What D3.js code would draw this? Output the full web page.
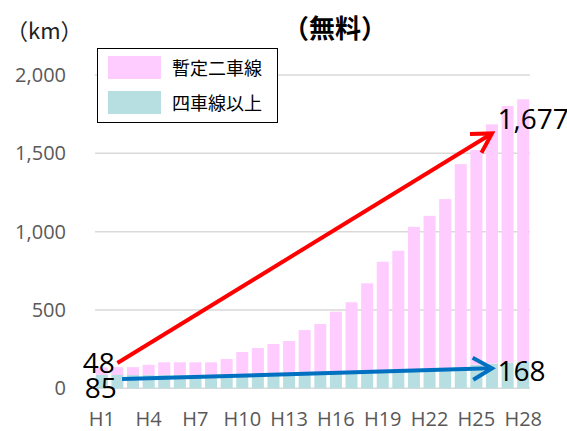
<!DOCTYPE html>
<html>
<head>
<meta charset="utf-8">
<script src="https://cdn.jsdelivr.net/npm/d3@7"></script>
<style>
  body { margin: 0; background: #fff; }
  svg { display: block; }
  text { font-family: "Open Sans", "Noto Sans CJK JP", sans-serif; }
  .cjk { font-family: "Noto Sans CJK JP", sans-serif; }
</style>
</head>
<body>
<svg id="chart" width="567" height="431"></svg>
<script>
const years = ['H1','H2','H3','H4','H5','H6','H7','H8','H9','H10','H11','H12','H13','H14',
  'H15','H16','H17','H18','H19','H20','H21','H22','H23','H24','H25','H26','H27','H28'];
// 四車線以上 (km)
const fourLane = [85, 85, 85, 86, 86, 86, 86, 86, 88, 88, 88, 90, 90, 92,
  96, 98, 100, 104, 108, 112, 116, 122, 128, 132, 150, 158, 164, 168];
// 暫定二車線 (km)
const twoLane = [48, 50, 50, 64, 80, 80, 80, 80, 99, 144, 169, 193, 212, 280,
  315, 391, 449, 566, 700, 766, 915, 979, 1080, 1299, 1371, 1527, 1638, 1677];
const yTicks = [0, 500, 1000, 1500, 2000];
const xTickLabels = ['H1','H4','H7','H10','H13','H16','H19','H22','H25','H28'];
const seriesNames = ['暫定二車線', '四車線以上'];
const colors = ['#ffccff', '#b7dfe2'];

// arrows: [year index, value] start and end
const redArrow = [[1, 161], [25, 1627]];
const blueArrow = [[1.3, 59], [25, 128]];
const labels = [
  { text: '48', i: 0, v: 48 + 85, dx: 13, dy: 6, anchor: 'end' },
  { text: '85', i: 0, v: 0, dx: 15, dy: 10, anchor: 'end' },
  { text: '1,677', i: 26, v: 1685, dx: -10, dy: 5, anchor: 'start' },
  { text: '168', i: 26, v: 168, dx: -10, dy: 19, anchor: 'start' }
];

const svg = d3.select('#chart');

const x = d3.scaleBand().domain(years).range([94, 531]).paddingInner(0.23).paddingOuter(0.115);
const y = d3.scaleLinear().domain([0, 2000]).range([388.3, 75]);
const xi = d3.scaleLinear().domain([0, years.length - 1])
  .range([x(years[0]) + x.bandwidth() / 2, x(years[years.length - 1]) + x.bandwidth() / 2]);

// gridlines
svg.append('g')
  .selectAll('line')
  .data(yTicks)
  .enter()
  .append('line')
  .attr('x1', 95)
  .attr('x2', 530)
  .attr('y1', function (d) { return y(d); })
  .attr('y2', function (d) { return y(d); })
  .attr('stroke', '#d9d9d9')
  .attr('stroke-width', 1.5);

// y axis labels
const yAxis = d3.axisLeft(y).tickValues(yTicks).tickSize(0).tickPadding(0)
  .tickFormat(d3.format(','));
svg.append('g')
  .attr('transform', 'translate(66,0)')
  .call(yAxis)
  .call(function (g) { g.select('.domain').remove(); })
  .selectAll('text')
  .attr('font-family', '"Open Sans", sans-serif')
  .attr('font-size', 20)
  .attr('fill', '#595959');

// stacked bars, four-lane at the bottom
const stackData = years.map(function (d, i) {
  return { year: d, four: fourLane[i], two: twoLane[i] };
});
const stacked = d3.stack().keys(['four', 'two'])(stackData);
const barColors = { four: colors[1], two: colors[0] };

svg.append('g')
  .selectAll('g')
  .data(stacked)
  .enter()
  .append('g')
  .attr('fill', function (d) { return barColors[d.key]; })
  .selectAll('rect')
  .data(function (d) { return d; })
  .enter()
  .append('rect')
  .attr('x', function (d) { return x(d.data.year); })
  .attr('y', function (d) { return y(d[1]); })
  .attr('width', x.bandwidth())
  .attr('height', function (d) { return y(d[0]) - y(d[1]); });

// x axis labels
const xAxis = d3.axisBottom(x).tickValues(xTickLabels).tickSize(0).tickPadding(0);
svg.append('g')
  .attr('transform', 'translate(0,412)')
  .call(xAxis)
  .call(function (g) { g.select('.domain').remove(); })
  .selectAll('text')
  .attr('font-family', '"Open Sans", sans-serif')
  .attr('font-size', 20)
  .attr('fill', '#595959');

// arrows
function arrow(pts, color) {
  const x1 = xi(pts[0][0]), y1 = y(pts[0][1]);
  const x2 = xi(pts[1][0]), y2 = y(pts[1][1]);
  const a = Math.atan2(y2 - y1, x2 - x1);
  const len = 22, spread = Math.PI / 6;
  const g = svg.append('g')
    .attr('stroke', color)
    .attr('stroke-width', 4)
    .attr('fill', 'none');
  g.append('line')
    .attr('x1', x1).attr('y1', y1)
    .attr('x2', x2 - Math.cos(a) * 2).attr('y2', y2 - Math.sin(a) * 2);
  const line = d3.line();
  g.append('path')
    .attr('stroke-linejoin', 'miter')
    .attr('d', line([
      [x2 - len * Math.cos(a - spread), y2 - len * Math.sin(a - spread)],
      [x2, y2],
      [x2 - len * Math.cos(a + spread), y2 - len * Math.sin(a + spread)]
    ]));
}
arrow(redArrow, '#ff0000');
arrow(blueArrow, '#0070c0');

// value labels
svg.append('g')
  .selectAll('text')
  .data(labels)
  .enter()
  .append('text')
  .attr('x', function (d) { return xi(d.i) + d.dx; })
  .attr('y', function (d) { return y(d.v) + d.dy; })
  .attr('text-anchor', function (d) { return d.anchor; })
  .attr('font-size', 28)
  .attr('fill', '#000')
  .text(function (d) { return d.text; });

// title and unit
svg.append('text')
  .attr('class', 'cjk')
  .attr('x', 335)
  .attr('y', 38)
  .attr('text-anchor', 'middle')
  .attr('font-size', 26)
  .attr('font-weight', 'bold')
  .attr('fill', '#000')
  .text('（無料）');

svg.append('text')
  .attr('class', 'cjk')
  .attr('x', 6)
  .attr('y', 39)
  .attr('font-size', 22)
  .attr('fill', '#222')
  .text('（km）');

// legend
const legend = svg.append('g').attr('transform', 'translate(97,48)');
legend.append('rect')
  .attr('x', 0.5).attr('y', 0.5)
  .attr('width', 180).attr('height', 74)
  .attr('fill', '#fff')
  .attr('stroke', '#000')
  .attr('stroke-width', 1);
const items = legend.selectAll('g.item')
  .data(seriesNames)
  .enter()
  .append('g')
  .attr('class', 'item')
  .attr('transform', function (d, i) { return 'translate(11,' + (8 + i * 35) + ')'; });
items.append('rect')
  .attr('width', 53)
  .attr('height', 23)
  .attr('fill', function (d, i) { return colors[i]; });
items.append('text')
  .attr('class', 'cjk')
  .attr('x', 64)
  .attr('y', 19)
  .attr('font-size', 18)
  .attr('fill', '#000')
  .text(function (d) { return d; });
</script>
</body>
</html>
